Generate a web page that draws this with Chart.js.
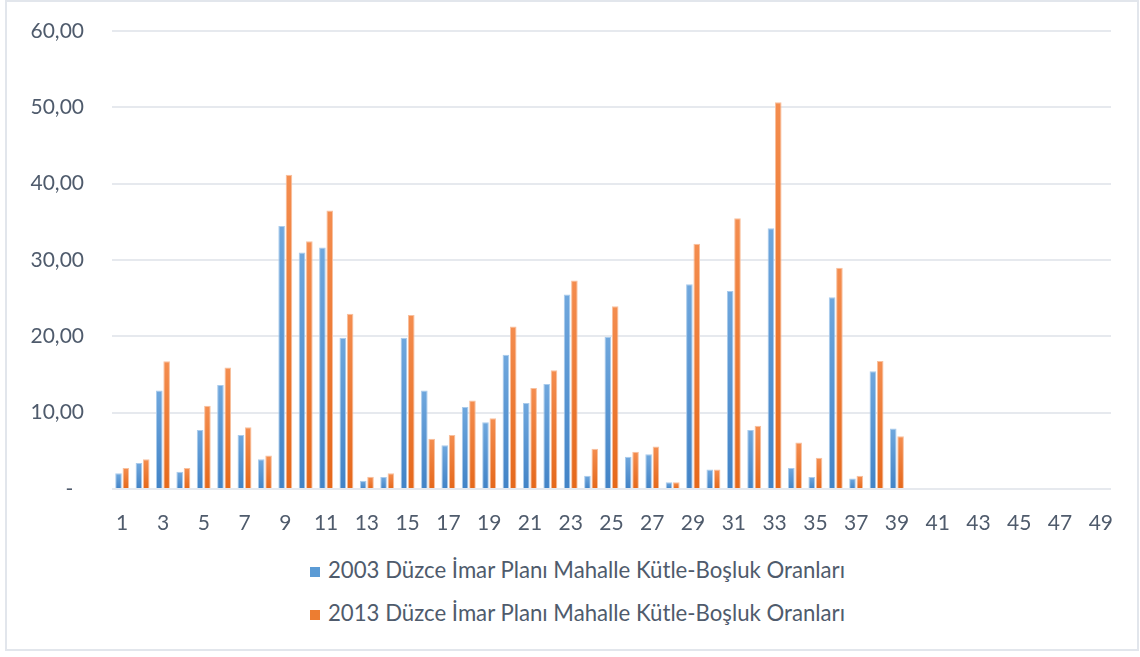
<!DOCTYPE html>
<html>
<head>
<meta charset="utf-8">
<script src="https://cdn.jsdelivr.net/npm/chart.js@4/dist/chart.umd.min.js"></script>
<style>
  html, body { margin: 0; padding: 0; background: #fff; }
  body { width: 1140px; height: 657px; position: relative; overflow: hidden; font-family: Lato, 'Open Sans', sans-serif; }
  #frame { position: absolute; left: 5px; top: 0; width: 1130px; height: 647px; border: 2px solid #e2e6ec; background: #fff; }
  #wrap { position: absolute; left: 0; top: 1px; width: 1130px; height: 540px; }
  #legend { position: absolute; left: 0; top: 554px; width: 1130px; }
  .item { position: absolute; left: 303px; height: 28px; line-height: 28px; font-size: 22.2px; color: #4f5b6c; white-space: nowrap; }
  .box { display: inline-block; width: 10px; height: 10px; margin-right: 8px; vertical-align: 1px; }
</style>
</head>
<body>
<div id="frame">
  <div id="wrap"><canvas id="chart"></canvas></div>
  <div id="legend"></div>
</div>
<script>
  // neighbourhood numbers 1..49 (only 1..39 have data)
  var categories = [];
  for (var i = 1; i <= 49; i++) categories.push(String(i));

  var seriesNames = [
    '2003 Düzce İmar Planı Mahalle Kütle-Boşluk Oranları',
    '2013 Düzce İmar Planı Mahalle Kütle-Boşluk Oranları'
  ];

  var values2003 = [2.05, 3.39, 12.9, 2.27, 7.74, 13.61, 7.09, 3.91, 34.47, 30.99,
                    31.64, 19.82, 1.09, 1.56, 19.82, 12.9, 5.74, 10.74, 8.74, 17.6,
                    11.26, 13.74, 25.47, 1.75, 19.95, 4.22, 4.56, 0.87, 26.82, 2.57,
                    25.95, 7.74, 34.16, 2.74, 1.56, 25.12, 1.39, 15.44, 7.91];

  var values2013 = [2.74, 3.91, 16.74, 2.74, 10.91, 15.91, 8.08, 4.39, 41.16, 32.46,
                    36.5, 22.95, 1.62, 2.05, 22.78, 6.57, 7.09, 11.6, 9.26, 21.3,
                    13.22, 15.57, 27.3, 5.27, 23.95, 4.87, 5.57, 0.87, 32.13, 2.57,
                    35.46, 8.27, 50.68, 6.09, 4.09, 29.0, 1.75, 16.78, 6.91];

  var yTicks = [0, 10, 20, 30, 40, 50, 60];

  var C = {
    blue:   { top: '#6fa7dd', bottom: '#4283c6', edge: '#a9cbec', flat: '#5b9bd5' },
    orange: { top: '#f48d4f', bottom: '#e5681b', edge: '#f8c09e', flat: '#ed7d31' },
    text: '#4f5b6c',
    grid: '#e6e9ee'
  };

  // each bar gets its own vertical gradient, lighter at the top
  function barFill(col) {
    return function (ctx) {
      var chart = ctx.chart;
      var y = chart.scales && chart.scales.y;
      if (!y || ctx.raw == null || !chart.chartArea) return col.flat;
      var top = y.getPixelForValue(ctx.raw);
      var base = y.getPixelForValue(0);
      if (!isFinite(top) || base - top < 1) return col.flat;
      var g = chart.ctx.createLinearGradient(0, top, 0, base);
      g.addColorStop(0, col.top);
      g.addColorStop(1, col.bottom);
      return g;
    };
  }

  function pad(arr) {
    var out = arr.slice();
    while (out.length < categories.length) out.push(null);
    return out;
  }

  var FONT = { family: "Lato, 'Open Sans', sans-serif", size: 21 };

  new Chart(document.getElementById('chart'), {
    type: 'bar',
    data: {
      labels: categories,
      datasets: [
        { label: seriesNames[0], data: pad(values2003), backgroundColor: barFill(C.blue),
          borderColor: C.blue.edge, borderWidth: 1, barPercentage: 0.9, categoryPercentage: 0.72 },
        { label: seriesNames[1], data: pad(values2013), backgroundColor: barFill(C.orange),
          borderColor: C.orange.edge, borderWidth: 1, barPercentage: 0.9, categoryPercentage: 0.72 }
      ]
    },
    options: {
      responsive: true,
      maintainAspectRatio: false,
      animation: false,
      layout: { padding: { top: 28, right: 26, bottom: 0, left: 0 } },
      plugins: { legend: { display: false }, tooltip: { enabled: false } },
      scales: {
        x: {
          grid: { display: false, drawTicks: false },
          border: { display: false },
          afterFit: function (s) { s.height = 54; s.paddingLeft = 0; s.paddingRight = 0; },
          ticks: {
            autoSkip: false, maxRotation: 0, padding: 22,
            color: C.text, font: FONT,
            callback: function (v, i) { return i % 2 === 0 ? categories[i] : ''; }
          }
        },
        y: {
          min: 0, max: 60,
          afterFit: function (s) { s.width = 105; s.paddingTop = 0; s.paddingBottom = 0; },
          afterBuildTicks: function (s) { s.ticks = yTicks.map(function (v) { return { value: v }; }); },
          grid: { color: C.grid, lineWidth: 2, drawTicks: false },
          border: { display: false },
          ticks: {
            padding: 28, color: C.text, font: FONT,
            callback: function (v) { return v === 0 ? '-  ' : v.toFixed(2).replace('.', ','); }
          }
        }
      }
    }
  });

  // legend stacked one entry per line, like the original sheet
  var legend = document.getElementById('legend');
  [C.blue.flat, C.orange.flat].forEach(function (c, i) {
    var d = document.createElement('div');
    d.className = 'item';
    d.style.top = (i * 43) + 'px';
    d.innerHTML = '<span class="box" style="background:' + c + '"></span>' + seriesNames[i];
    legend.appendChild(d);
  });
</script>
</body>
</html>
